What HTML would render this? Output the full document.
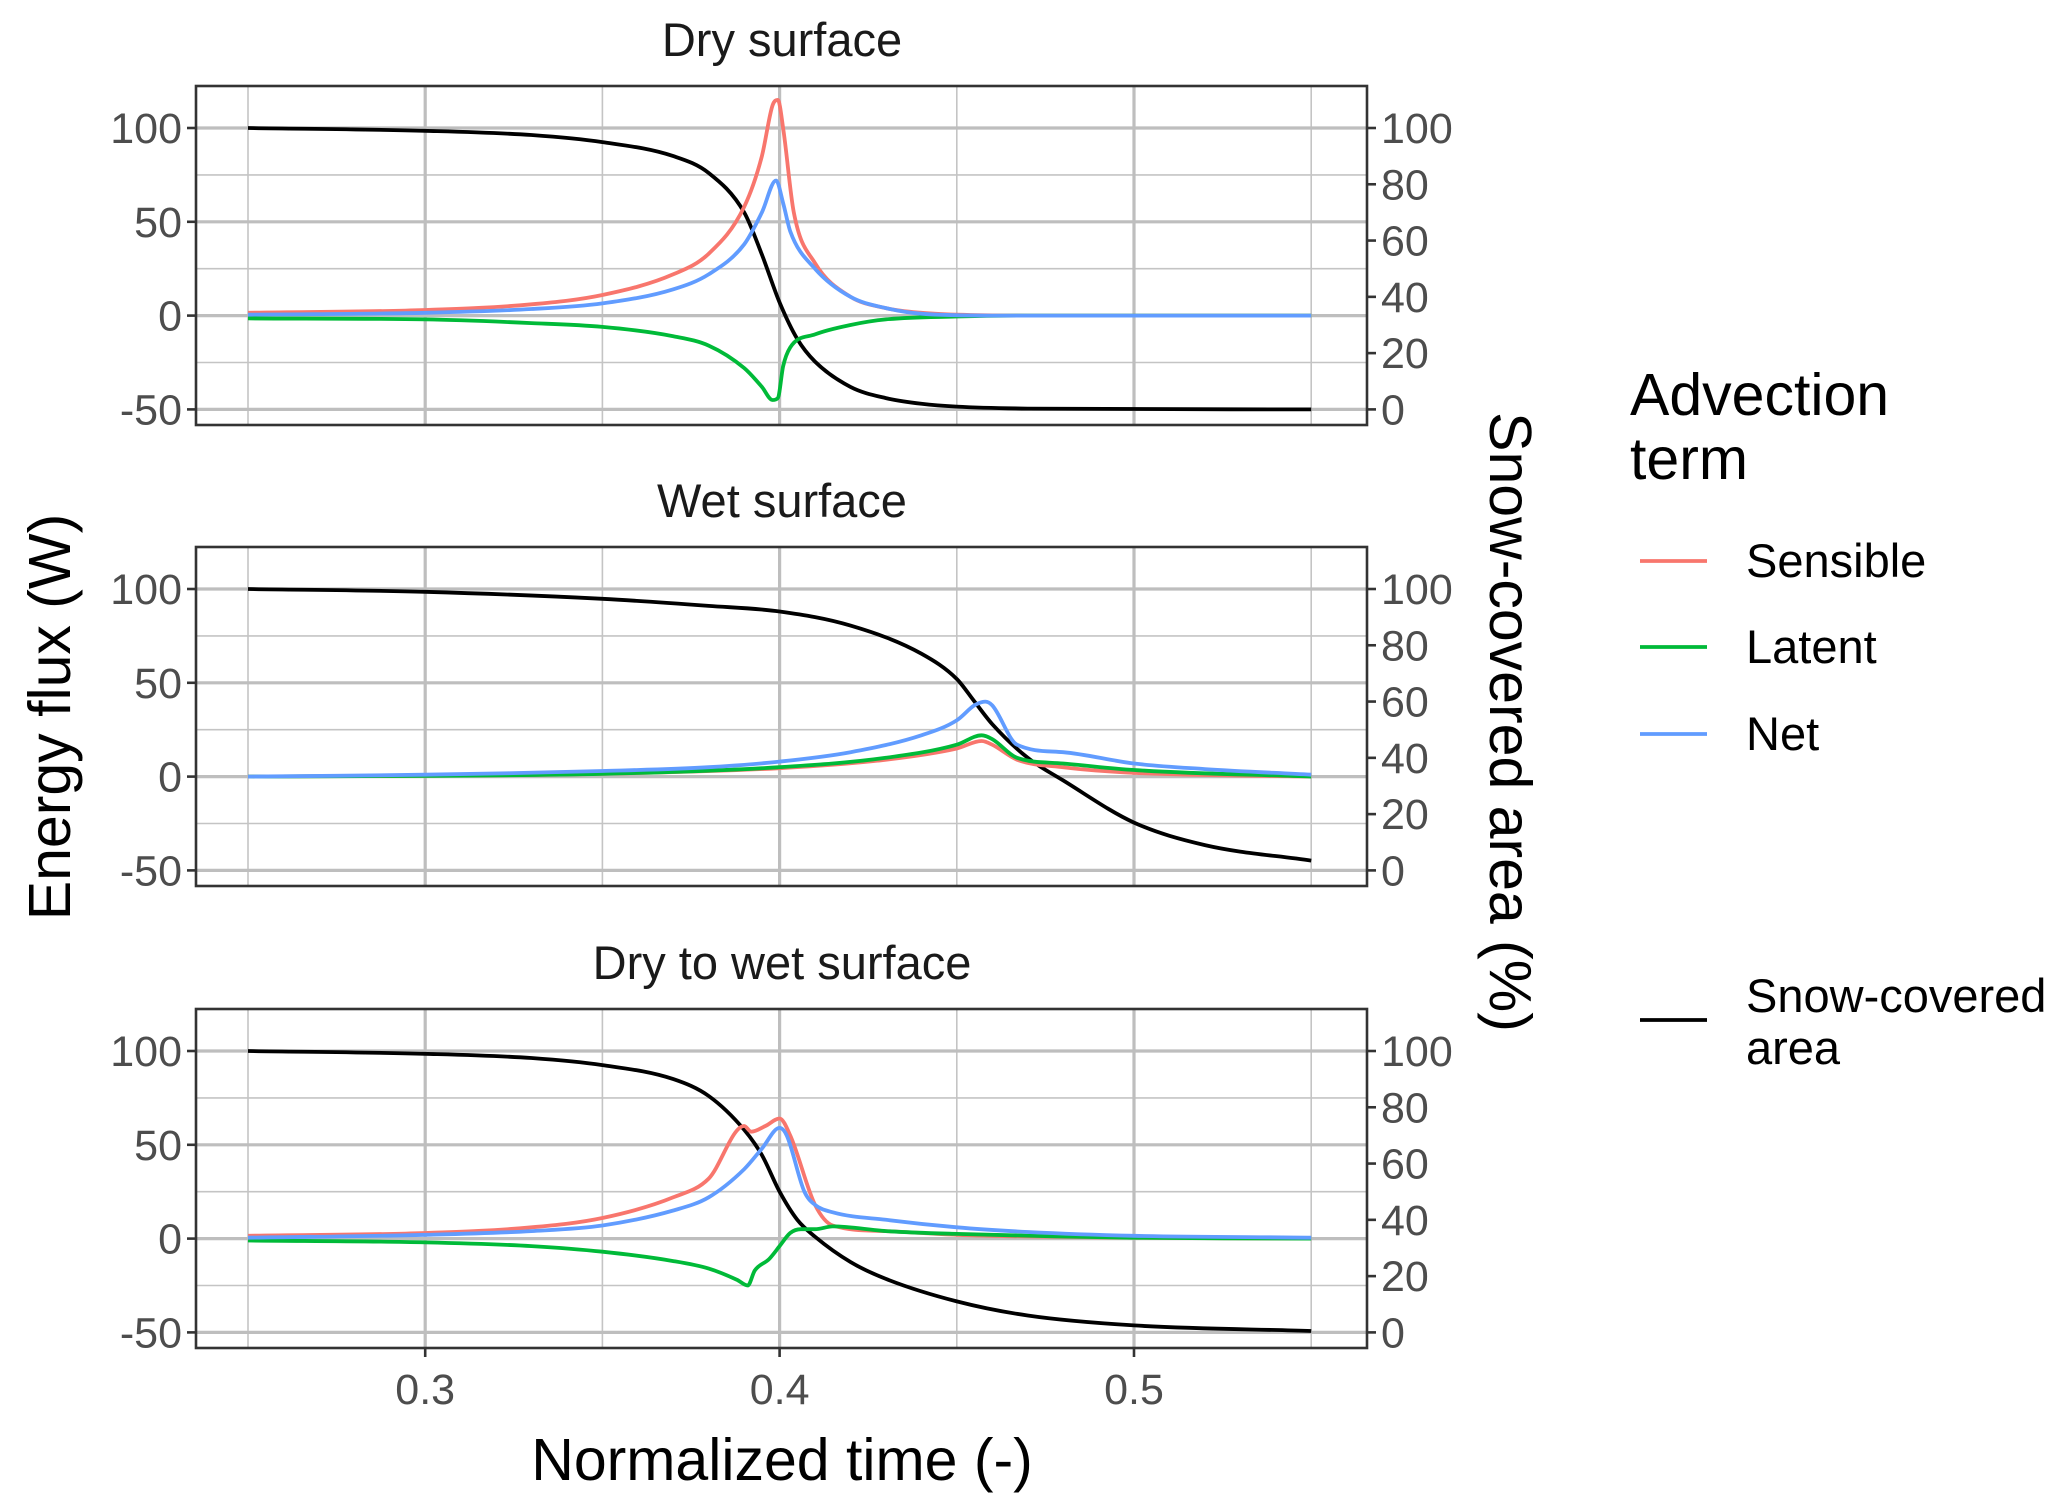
<!DOCTYPE html>
<html><head><meta charset="utf-8"><style>
html,body{margin:0;padding:0;background:#fff;}
svg{display:block;font-family:"Liberation Sans",sans-serif;}
</style></head><body>
<svg id="chart" width="2067" height="1507" viewBox="0 0 2067 1507"></svg>
<script>
const panelTitles = ["Dry surface","Wet surface","Dry to wet surface"];
const xTicks = [0.3,0.4,0.5];
const xMinor = [0.25,0.35,0.45,0.55];
const yTicks = [-50,0,50,100];
const yMinor = [-25,25,75];
const rTicks = [0,20,40,60,80,100];
// Panel 1: dry surface
const p1SensX=[.25,.30,.33,.35,.37,.38,.39,.395,.398,.3995,.401,.404,.41,.42,.43,.44,.45,.47,.55];
const p1SensY=[1.5,3,6,11,22,33,58,85,112,115,100,55,28,10,4,1.5,.5,0,0];
const p1LatX=[.25,.30,.33,.35,.37,.38,.39,.395,.398,.3995,.401,.403,.41,.42,.43,.45,.47,.55];
const p1LatY=[-1.5,-2,-4,-6,-11,-16,-28,-38,-45,-44,-27,-17,-10,-5,-2,-.5,0,0];
const p1NetX=[.25,.30,.33,.35,.37,.38,.39,.395,.399,.401,.403,.41,.42,.43,.44,.46,.55];
const p1NetY=[.5,1.5,3.5,6.5,14,22,38,55,72,60,45,25,10,4,1,0,0];
const p1SnowX=[.25,.30,.33,.35,.37,.38,.39,.395,.40,.405,.41,.42,.43,.44,.45,.47,.55];
const p1SnowY=[100,99,97.5,95,90,84,70,55,38,25,17,8,4,2,1,.3,0];
// Panel 2: wet surface
const p2SensX=[.25,.35,.40,.43,.45,.457,.46,.467,.48,.50,.55];
const p2SensY=[0,1.5,4.5,9,15,19,17,9,5,2,0];
const p2LatX=[.25,.35,.40,.43,.45,.457,.46,.467,.48,.50,.55];
const p2LatY=[0,1.5,5,10,17,22,20,10,7,3.5,0];
const p2NetX=[.25,.30,.35,.38,.40,.42,.44,.45,.455,.458,.46,.467,.48,.50,.52,.55];
const p2NetY=[0,1,3,5,8,13,22,30,38,40,38,17,13,7,4,1];
const p2SnowX=[.25,.30,.35,.38,.40,.42,.44,.45,.455,.46,.47,.48,.50,.52,.55];
const p2SnowY=[100,99,96.5,94,92,87,77,68,60,52,40,32,17,9,3.5];
// Panel 3: dry to wet
const p3SensX=[.25,.30,.33,.35,.37,.38,.39,.392,.396,.40,.403,.41,.415,.43,.45,.50,.55];
const p3SensY=[1.5,3,6,11,22,32,60,57,60,64,55,18,7,4,2,.5,0];
const p3LatX=[.25,.30,.33,.35,.37,.38,.388,.391,.393,.397,.40,.403,.406,.41,.415,.43,.45,.50,.55];
const p3LatY=[-1,-2,-4,-7,-12,-16,-22,-25,-17,-11,-4,3,5,5,6.5,4,2.5,.5,0];
const p3NetX=[.25,.30,.33,.35,.37,.38,.39,.395,.40,.402,.407,.41,.415,.43,.45,.47,.50,.55];
const p3NetY=[.5,2,4,7,15,22,37,48,59,55,25,18,14,10,6,3.5,1.5,.5];
const p3SnowX=[.25,.30,.33,.35,.37,.38,.39,.395,.40,.405,.41,.42,.43,.45,.47,.50,.55];
const p3SnowY=[100,99,97.5,95,90,84,72,63,50,40,34,25,19,11,6,2.5,.5];

const panels=[
 {s:[p1SensX,p1SensY],l:[p1LatX,p1LatY],n:[p1NetX,p1NetY],w:[p1SnowX,p1SnowY]},
 {s:[p2SensX,p2SensY],l:[p2LatX,p2LatY],n:[p2NetX,p2NetY],w:[p2SnowX,p2SnowY]},
 {s:[p3SensX,p3SensY],l:[p3LatX,p3LatY],n:[p3NetX,p3NetY],w:[p3SnowX,p3SnowY]}
];
const NS="http://www.w3.org/2000/svg";
const svg=document.getElementById('chart');
function mk(tag,attrs,parent,text){const e=document.createElementNS(NS,tag);for(const k in attrs)e.setAttribute(k,attrs[k]);if(text!==undefined)e.textContent=text;(parent||svg).appendChild(e);return e;}
// monotone cubic path (no overshoot)
function monoPath(px,py){
 const n=px.length,d=[],m=[];
 for(let i=0;i<n-1;i++)d.push((py[i+1]-py[i])/(px[i+1]-px[i]));
 m[0]=d[0];m[n-1]=d[n-2];
 for(let i=1;i<n-1;i++){m[i]=(d[i-1]*d[i]<=0)?0:(d[i-1]+d[i])/2;}
 for(let i=0;i<n-1;i++){
  if(d[i]===0){m[i]=0;m[i+1]=0;continue;}
  const a=m[i]/d[i],b=m[i+1]/d[i],s=a*a+b*b;
  if(s>9){const t=3/Math.sqrt(s);m[i]=t*a*d[i];m[i+1]=t*b*d[i];}
 }
 let p='M'+px[0].toFixed(1)+' '+py[0].toFixed(1);
 for(let i=0;i<n-1;i++){
  const h=(px[i+1]-px[i])/3;
  p+=' C'+(px[i]+h).toFixed(1)+' '+(py[i]+m[i]*h).toFixed(1)+' '+(px[i+1]-h).toFixed(1)+' '+(py[i+1]-m[i+1]*h).toFixed(1)+' '+px[i+1].toFixed(1)+' '+py[i+1].toFixed(1);
 }
 return p;
}
const L=196,R=1367,PH=339,tops=[86,547,1009];
const X=v=>248+(v-0.25)*3544;
const Yf=top=>v=>top+42+(100-v)*1.876;
const colors={s:"#F8766D",l:"#00BA38",n:"#619CFF",w:"#000000"};
const names={s:"sensible",l:"latent",n:"net",w:"snow-covered-area"};
panels.forEach((p,i)=>{
 const top=tops[i],Y=Yf(top);
 const g=mk('g',{});
 
 
 const t=mk('text',{x:782,y:top-30,'font-size':47,'text-anchor':'middle',fill:'#1a1a1a'},g,panelTitles[i]);
 
 
 yMinor.forEach(v=>mk('line',{x1:L,x2:R,y1:Y(v),y2:Y(v),stroke:'#c4c4c4','stroke-width':1.6},g));
 xMinor.forEach(v=>mk('line',{x1:X(v),x2:X(v),y1:top,y2:top+PH,stroke:'#c4c4c4','stroke-width':1.6},g));
 yTicks.forEach(v=>mk('line',{x1:L,x2:R,y1:Y(v),y2:Y(v),stroke:'#bebebe','stroke-width':3.2},g));
 xTicks.forEach(v=>mk('line',{x1:X(v),x2:X(v),y1:top,y2:top+PH,stroke:'#bebebe','stroke-width':3.2},g));
 ['w','s','l','n'].forEach(k=>{
  const [xs,ys]=p[k];
  const yy=k==='w'?(v=>Y(v*1.5-50)):Y;
  const d=monoPath(xs.map(X),ys.map(yy));
  const path=mk('path',{d:d,fill:'none',stroke:colors[k],'stroke-width':3.8,'stroke-linejoin':'round'},g);
  
  
 });
 mk('rect',{x:L,y:top,width:R-L,height:PH,fill:'none',stroke:'#333','stroke-width':2.6},g);
 yTicks.forEach(v=>{
  mk('line',{x1:L-9,x2:L,y1:Y(v),y2:Y(v),stroke:'#333','stroke-width':2.6},g);
  const tl=mk('text',{x:L-14,y:Y(v)+15,'font-size':43,'text-anchor':'end',fill:'#4d4d4d'},g,String(v));
  
  
 });
 rTicks.forEach(v=>{
  const yy=Y(v*1.5-50);
  mk('line',{x1:R,x2:R+9,y1:yy,y2:yy,stroke:'#333','stroke-width':2.6},g);
  const tl=mk('text',{x:R+14,y:yy+15,'font-size':43,'text-anchor':'start',fill:'#4d4d4d'},g,String(v));
  
  
 });
 if(i===2){
  xTicks.forEach(v=>{
   mk('line',{x1:X(v),x2:X(v),y1:top+PH,y2:top+PH+9,stroke:'#333','stroke-width':2.6},g);
   const tl=mk('text',{x:X(v),y:top+PH+56,'font-size':43,'text-anchor':'middle',fill:'#4d4d4d'},g,String(v));
   
   
  });
 }
});
</script>
<svg style="position:absolute;left:0;top:0" width="2067" height="1507">
 <text x="782" y="1480" font-size="59" text-anchor="middle" fill="#000" font-family="Liberation Sans,sans-serif">Normalized time (-)</text>
 <text transform="translate(70,717) rotate(-90)" font-size="59" text-anchor="middle" fill="#000" font-family="Liberation Sans,sans-serif">Energy flux (W)</text>
 <text transform="translate(1490,722) rotate(90)" font-size="59" text-anchor="middle" fill="#000" font-family="Liberation Sans,sans-serif">Snow-covered area (%)</text>
 <g font-family="Liberation Sans,sans-serif">
  <text x="1630" y="415" font-size="59" fill="#000">Advection</text>
  <text x="1630" y="479" font-size="59" fill="#000">term</text>
  <line x1="1640" x2="1707" y1="561" y2="561" stroke="#F8766D" stroke-width="3.8"/>
  <text x="1746" y="577" font-size="47" fill="#000">Sensible</text>
  <line x1="1640" x2="1707" y1="647" y2="647" stroke="#00BA38" stroke-width="3.8"/>
  <text x="1746" y="663" font-size="47" fill="#000">Latent</text>
  <line x1="1640" x2="1707" y1="734" y2="734" stroke="#619CFF" stroke-width="3.8"/>
  <text x="1746" y="750" font-size="47" fill="#000">Net</text>
  <line x1="1640" x2="1707" y1="1020" y2="1020" stroke="#000" stroke-width="3.8"/>
  <text x="1746" y="1012" font-size="47" fill="#000">Snow-covered</text>
  <text x="1746" y="1064" font-size="47" fill="#000">area</text>
 </g>
</svg>
</body></html>
